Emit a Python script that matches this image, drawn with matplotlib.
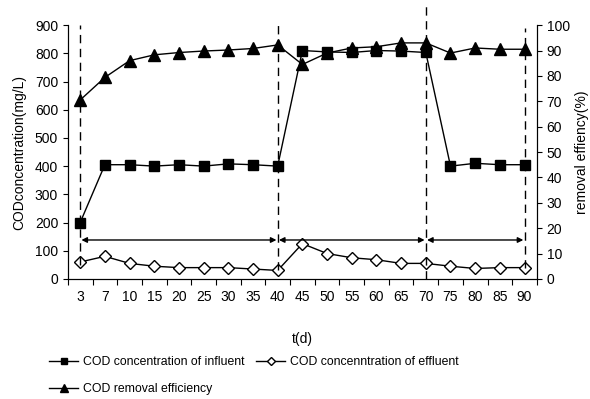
import matplotlib.pyplot as plt
import numpy as np

plt.rcParams['font.family'] = ['Liberation Sans', 'DejaVu Sans']
plt.rcParams['font.size'] = 10

days = ['3', '7', '10', '15', '20', '25', '30', '35', '40', '45',
        '50', '55', '60', '65', '70', '75', '80', '85', '90']
influent = [200, 405, 405, 400, 405, 400, 408, 405, 400, 810,
            805, 803, 810, 808, 803, 400, 410, 405, 405]
effluent = [60, 80, 55, 45, 40, 40, 40, 35, 30, 125,
            90, 75, 68, 55, 55, 45, 37, 40, 40]
removal = [70.5, 79.4, 86.0, 88.3, 89.2, 89.8, 90.2, 90.8, 92.2, 84.5,
           89.0, 91.0, 91.5, 93.0, 93.0, 89.0, 91.0, 90.5, 90.5]

# stage boundaries (category index) and dashed line extents (mg/L)
stages = [0, 8, 14, 18]
dash_lo = [50, 30, 0, 40]
dash_hi = [900, 900, 975, 890]
arrow_y = 138

x = np.arange(len(days))

fig = plt.figure(figsize=(5.9, 3.99), dpi=100)
ax = fig.add_axes([0.115, 0.301, 0.795, 0.636])
ax2 = ax.twinx()

l1, = ax.plot(x, influent, color='black', lw=1, marker='s', ms=7,
              mfc='black', mec='black', label='COD concentration of influent')
l2, = ax.plot(x, effluent, color='black', lw=1, marker='D', ms=6,
              mfc='white', mec='black', label='COD concenntration of effluent')
l3, = ax2.plot(x, removal, color='black', lw=1, marker='^', ms=8,
               mfc='black', mec='black', label='COD removal efficiency')

for s, lo, hi in zip(stages, dash_lo, dash_hi):
    ax.plot([s, s], [lo, hi], color='black', lw=1, ls=(0, (6, 4)), clip_on=False)

for a, b in zip(stages[:-1], stages[1:]):
    ax.annotate('', xy=(b - 0.05, arrow_y), xytext=(a + 0.05, arrow_y),
                arrowprops=dict(arrowstyle='<|-|>', color='black', lw=1,
                                mutation_scale=8, shrinkA=0, shrinkB=0))

ax.set_xlim(-0.5, len(days) - 0.5)
ax.set_ylim(0, 900)
ax.set_yticks(np.arange(0, 901, 100))
ax2.set_ylim(0, 100)
ax2.set_yticks(np.arange(0, 101, 10))

ax.set_xticks(np.arange(-0.5, len(days), 1))
ax.set_xticklabels([])
ax.set_xticks(x, minor=True)
ax.set_xticklabels(days, minor=True)
ax.tick_params(axis='x', which='minor', length=0, pad=8)
ax.tick_params(axis='x', which='major', length=4, direction='out')

for a in (ax, ax2):
    a.spines['top'].set_visible(False)

ax.set_xlabel('t(d)', labelpad=20)
ax.set_ylabel('CODconcentration(mg/L)', labelpad=6)
ax2.set_ylabel('removal effiency(%)')

fig.legend([l1, l3, l2], [l1.get_label(), l3.get_label(), l2.get_label()],
           loc='upper left', bbox_to_anchor=(0.075, 0.12), ncol=2,
           frameon=False, handlelength=2.4, columnspacing=0.9,
           labelspacing=1.25, handletextpad=0.4, borderaxespad=0,
           markerscale=0.65, fontsize=8.8)

fig.savefig('out.png', dpi=100)
